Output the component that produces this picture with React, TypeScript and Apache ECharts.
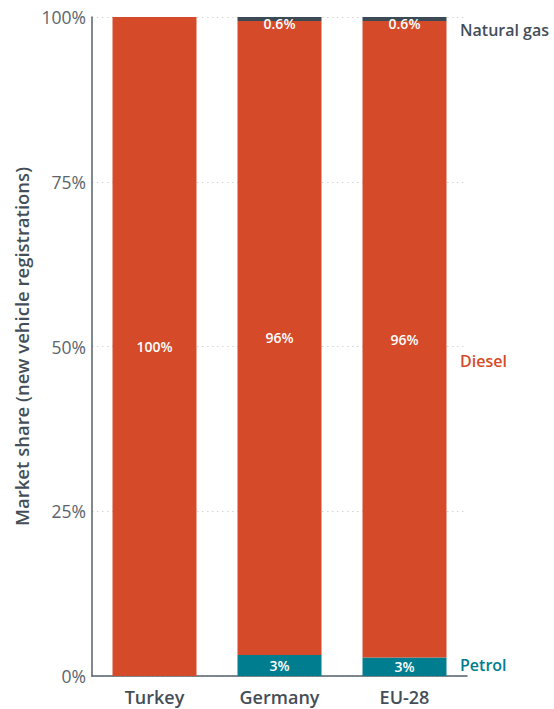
import React, { useEffect, useRef } from "react";
import * as echarts from "echarts";

const categories = ["Turkey", "Germany", "EU-28"];
const petrol = [0, 3.2, 2.8];
const diesel = [100, 96.2, 96.6];
const naturalGas = [0, 0.6, 0.6];
const petrolLabels = ["", "3%", "3%"];
const dieselLabels = ["100%", "96%", "96%"];
const gasLabels = ["", "0.6%", "0.6%"];
const yTicks = [0, 25, 50, 75, 100];

const FONT = "'Open Sans', 'Noto Sans', sans-serif";

export default function App() {
  const ref = useRef<HTMLDivElement>(null);
  useEffect(() => {
    if (!ref.current) return;
    const chart = echarts.init(ref.current, undefined, { renderer: "svg" });
    const labelStyle = {
      show: true,
      color: "#ffffff",
      fontSize: 14,
      fontWeight: 600,
      fontFamily: FONT,
    };
    chart.setOption({
      animation: false,
      textStyle: { fontFamily: FONT },
      grid: { left: 92, right: 87, top: 17, bottom: 33, containLabel: false },
      xAxis: {
        type: "category",
        data: categories,
        axisLine: { lineStyle: { color: "#56606a", width: 1.5 } },
        axisTick: { show: false },
        axisLabel: {
          color: "#444e58",
          fontSize: 18,
          fontWeight: 600,
          margin: 12,
          fontFamily: FONT,
        },
      },
      yAxis: {
        type: "value",
        min: 0,
        max: 100,
        interval: 25,
        name: "Market share (new vehicle registrations)",
        nameLocation: "middle",
        nameGap: 57,
        nameTextStyle: {
          color: "#444e58",
          fontSize: 18.5,
          fontWeight: 600,
          fontFamily: FONT,
        },
        axisLine: { show: true, lineStyle: { color: "#56606a", width: 1.5 } },
        axisTick: { show: false },
        axisLabel: {
          color: "#5b646c",
          fontSize: 17.5,
          margin: 6,
          fontFamily: FONT,
          formatter: (v: number) => (yTicks.includes(v) ? v + "%" : ""),
        },
        splitLine: {
          show: true,
          lineStyle: { color: "#d3d6d9", type: [1.5, 3.5], width: 1.2 },
        },
      },
      series: [
        {
          name: "Petrol",
          type: "bar",
          stack: "s",
          barWidth: 84,
          data: petrol,
          itemStyle: { color: "#007d8f" },
          label: {
            ...labelStyle,
            position: "inside",
            formatter: (p: any) => petrolLabels[p.dataIndex],
          },
        },
        {
          name: "Diesel",
          type: "bar",
          stack: "s",
          barWidth: 84,
          data: diesel,
          itemStyle: { color: "#d54a28" },
          label: {
            ...labelStyle,
            position: "inside",
            formatter: (p: any) => dieselLabels[p.dataIndex],
          },
        },
        {
          name: "Natural gas",
          type: "bar",
          stack: "s",
          barWidth: 84,
          data: naturalGas,
          itemStyle: { color: "#3c4a55" },
          label: {
            ...labelStyle,
            position: "bottom",
            distance: -4,
            formatter: (p: any) => gasLabels[p.dataIndex],
          },
        },
      ],
      graphic: [
        {
          type: "text",
          left: 460,
          top: 22,
          style: {
            text: "Natural gas",
            fill: "#444e58",
            font: `600 16px ${FONT}`,
          },
        },
        {
          type: "text",
          left: 460,
          top: 353,
          style: {
            text: "Diesel",
            fill: "#d54a28",
            font: `600 16px ${FONT}`,
          },
        },
        {
          type: "text",
          left: 460,
          top: 657,
          style: {
            text: "Petrol",
            fill: "#007d8f",
            font: `600 16px ${FONT}`,
          },
        },
      ],
    });
    return () => chart.dispose();
  }, []);
  return (
    <div
      ref={ref}
      style={{ position: "fixed", left: 0, top: 0, width: 554, height: 709, background: "#fff" }}
    />
  );
}
